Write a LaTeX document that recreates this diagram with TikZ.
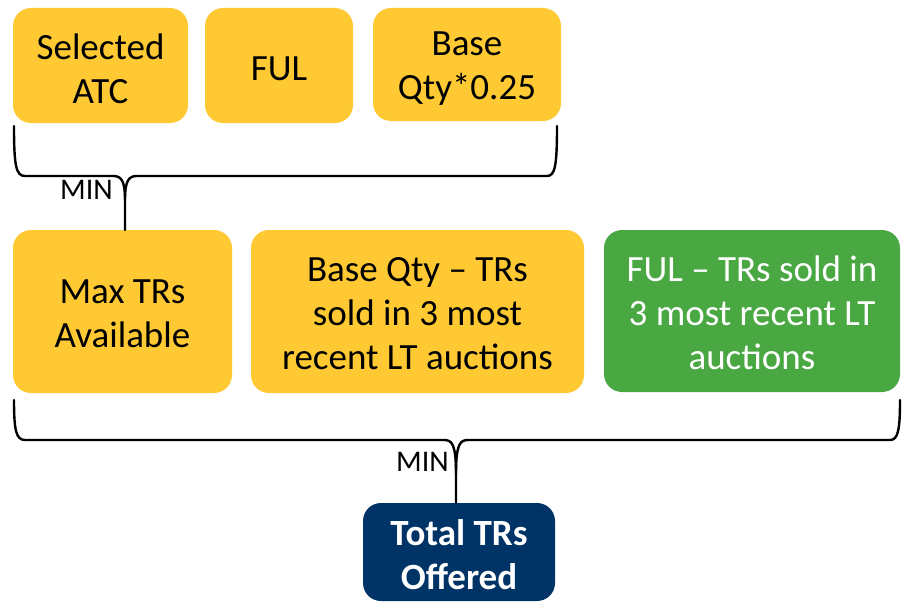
\documentclass[tikz,border=0pt]{standalone}
\usepackage{fontspec}
\setmainfont{Carlito}
\definecolor{ylw}{HTML}{FFC933}
\definecolor{grn}{HTML}{4AA843}
\definecolor{navy}{HTML}{003366}
\begin{document}
\begin{tikzpicture}[x=1pt,y=-1pt,
  box/.style={rounded corners=18pt, inner sep=0pt},
  ybox/.style={box, fill=ylw},
  txt/.style={inner sep=0pt, align=center, font=\fontsize{37}{44}\selectfont},
  brace/.style={draw=black, line width=2.4pt, line cap=round},
  mintext/.style={font=\fontsize{30}{34}\selectfont, inner sep=0pt}]
\useasboundingbox (0,0) rectangle (902,602);
% top row
\node[ybox, minimum width=175, minimum height=115] (atc) at (100.5,65.5) {};
\node[txt] (atct) at ([yshift=-3pt]atc.center) {Selected\\ATC};
\node[ybox, minimum width=148, minimum height=115] (ful) at (279,65.5) {};
\node[txt] (fult) at ([yshift=-3pt]ful.center) {FUL};
\node[ybox, minimum width=188, minimum height=113] (bq) at (467,64.5) {};
\node[txt] (bqt) at ([yshift=-4pt]bq.center) {Base\\Qty*0.25};
% middle row
\node[ybox, minimum width=219, minimum height=163] (max) at (122.5,311.5) {};
\node[txt] (maxt) at ([yshift=-2pt]max.center) {Max TRs\\Available};
\node[ybox, minimum width=333, minimum height=163] (bqs) at (417.5,311.5) {};
\node[txt] (bqst) at ([yshift=-2pt]bqs.center) {Base Qty – TRs\\sold in 3 most\\recent LT auctions};
\node[box, fill=grn, minimum width=296, minimum height=162] (fuls) at (752,311) {};
\node[txt, text=white] (fulst) at ([yshift=-2pt]fuls.center) {FUL – TRs sold in\\3 most recent LT\\auctions};
% bottom
\node[box, fill=navy, minimum width=192, minimum height=98] (tot) at (459,552) {};
\node[txt, text=white, font=\fontsize{37}{44}\selectfont\bfseries] (tott) at ([yshift=-3pt]tot.center) {Total TRs\\Offered};
% brace 1
\coordinate (b1l) at (14,126);
\coordinate (b1r) at (557,126);
\coordinate (b1t) at (125,200);
\draw[brace] (b1l) .. controls (14,166) and (16,176) .. (25,176) -- (113,176)
  .. controls (121,176) and (125,180) .. (b1t) -- (b1t |- max.north);
\draw[brace] (b1t) .. controls (125,180) and (129,176) .. (137,176) -- (547,176)
  .. controls (555,176) and (557,166) .. (b1r);
\node[mintext, anchor=east] (min1) at (113,190) {MIN};
% brace 2
\coordinate (b2l) at (14,400);
\coordinate (b2r) at (900,400);
\coordinate (b2t) at (456,474);
\draw[brace] (b2l) .. controls (14,430) and (16,440) .. (25,440) -- (444,440)
  .. controls (452,440) and (456,444) .. (b2t) -- (b2t |- tot.north);
\draw[brace] (b2t) .. controls (456,444) and (460,440) .. (468,440) -- (890,440)
  .. controls (898,440) and (900,430) .. (b2r);
\node[mintext, anchor=east] (min2) at (449,462) {MIN};
\end{tikzpicture}
\end{document}
